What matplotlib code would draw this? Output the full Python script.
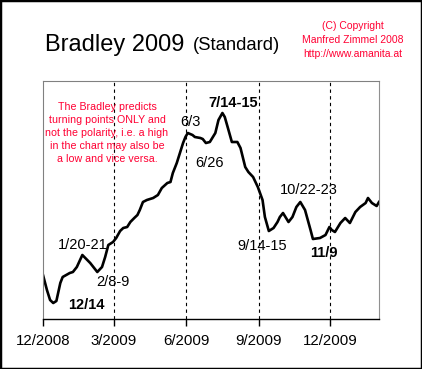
import numpy as np
import matplotlib
matplotlib.use('Agg')
import matplotlib.pyplot as plt
from matplotlib.patches import Rectangle

plt.rcParams['font.family'] = ['Liberation Sans', 'DejaVu Sans']

# days after 2008-12-01 and the Bradley index value (arbitrary units)
days = [0, 5, 9, 13, 17, 22, 25, 34, 38, 43, 50, 55, 60, 69, 75, 79, 83, 89, 93, 98,
        102, 107, 111, 116, 120, 123, 127, 132, 140, 146, 151, 158, 162, 165, 170, 174,
        178, 181, 184, 190, 193, 200, 203, 207, 212, 219, 223, 228, 231, 235, 240, 247,
        251, 257, 261, 267, 273, 279, 282, 287, 293, 298, 301, 305, 312, 317, 322, 327,
        333, 340, 343, 352, 359, 364, 367, 371, 378, 384, 390, 397, 403, 410, 413, 418,
        424, 427]
values = [44, 29, 19, 16, 18, 36, 42, 46, 47, 52, 64, 60, 56, 47, 52, 62, 74, 77, 81, 88,
          91, 92, 97, 101, 104, 109, 117, 119, 121, 124, 131, 136, 137, 146, 156, 166,
          176, 182, 186, 184, 182, 181, 180, 176, 177, 186, 199, 206, 202, 191, 177, 177,
          171, 152, 147, 142, 132, 119, 102, 88, 91, 97, 102, 106, 97, 102, 112, 117,
          109, 89, 80, 81, 84, 92, 89, 87, 96, 101, 96, 107, 112, 116, 121, 116,
          113, 117]

tick_dates = ['2008-12-01', '2009-03-01', '2009-06-01', '2009-09-01', '2009-12-01']
tick_labels = ['12/2008', '3/2009', '6/2009', '9/2009', '12/2009']

# turning point labels: text, position (days after start, value), bold
turn_labels = ['1/20-21', '2/8-9', '12/14', '6/3', '7/14-15', '6/26', '10/22-23', '9/14-15', '11/9']
turn_days = [50, 89, 55, 188, 242, 212, 338, 279, 357]
turn_values = [74, 37, 14, 197, 216, 156, 129, 73, 66]
turn_bold = [False, False, True, False, True, False, False, False, True]

start = np.datetime64('2008-12-01')
x = start + np.array(days).astype('timedelta64[D]')

fig = plt.figure(figsize=(4.22, 3.69), dpi=100)
ax = fig.add_axes([43 / 422, 50 / 369, 336 / 422, 238 / 369])

ax.plot(x, values, color='black', lw=1.9, solid_joinstyle='round')

ticks = np.array(tick_dates, dtype='datetime64[D]')
for t in ticks[1:]:
    ax.axvline(t, color='black', ls=(0, (3, 3)), lw=0.8)

ax.set_xlim(start, start + np.timedelta64(427, 'D'))
ax.set_ylim(0, 238)
ax.set_xticks(ticks)
ax.set_xticklabels(tick_labels, fontsize=10.8)
ax.set_yticks([])
ax.tick_params(axis='x', direction='out', length=5, width=1, pad=6, color='black')

for s in ['left', 'top']:
    ax.spines[s].set_color('#808080')
    ax.spines[s].set_linestyle((0, (1, 1)))
    ax.spines[s].set_linewidth(0.8)
ax.spines['right'].set_color('#909090')
ax.spines['right'].set_linewidth(0.8)
ax.spines['bottom'].set_color('black')
ax.spines['bottom'].set_linewidth(1)

for lab, d, v, b in zip(turn_labels, turn_days, turn_values, turn_bold):
    ax.text(start + np.timedelta64(d, 'D'), v, lab, ha='center', va='center', fontsize=10.5,
            fontweight='bold' if b else 'normal', color='black')

note = ('The Bradley predicts\nturning points ONLY and\nnot the polarity, i.e. a high\n'
        'in the chart may also be\na low and vice versa.')
fig.text(107 / 422, 1 - 133 / 369, note, ha='center', va='center', fontsize=7.7,
         color='#ff0033', linespacing=1.36)

fig.text(45 / 422, 1 - 45 / 369, 'Bradley 2009', fontsize=17, ha='left', va='center')
fig.text(193 / 422, 1 - 46 / 369, '(Standard)', fontsize=13.3, ha='left', va='center')
fig.text(353 / 422, 1 - 40 / 369, '(C) Copyright\nManfred Zimmel 2008\nhttp://www.amanita.at',
         fontsize=7.5, ha='center', va='center', color='#ff0033', linespacing=1.45)

fig.patches.append(Rectangle((0, 0), 1, 1, transform=fig.transFigure, fill=False,
                             edgecolor='black', lw=2.5))

plt.savefig('out.png', dpi=100)
